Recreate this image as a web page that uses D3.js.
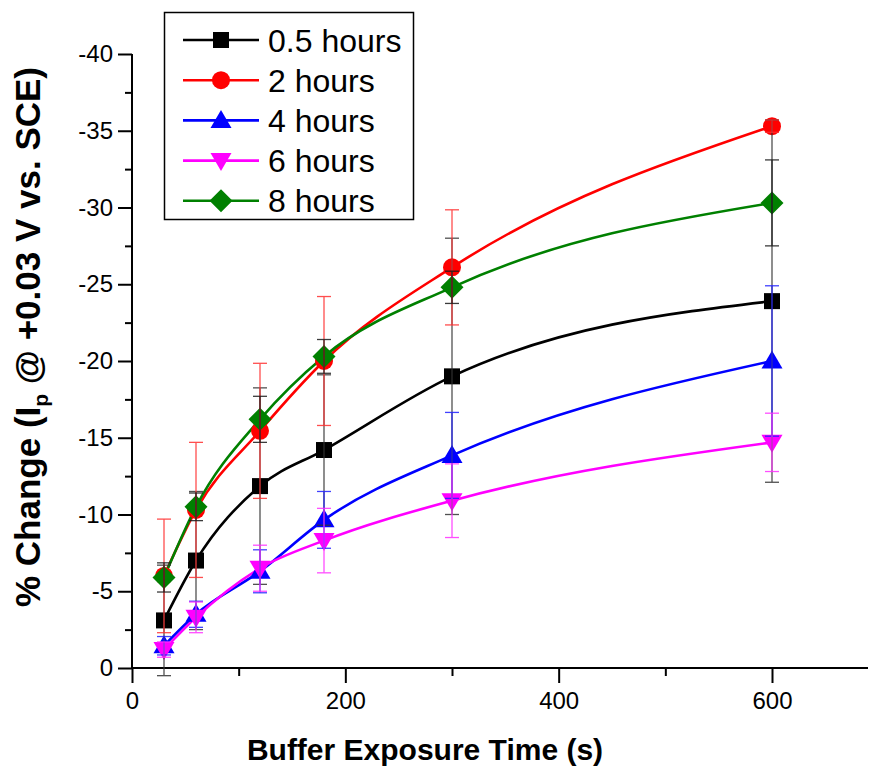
<!DOCTYPE html>
<html>
<head>
<meta charset="utf-8">
<script src="https://cdn.jsdelivr.net/npm/d3@7"></script>
<style>
  html, body { margin: 0; padding: 0; background: #fff; }
  svg { display: block; font-family: "Liberation Sans", Arial, sans-serif; }
  .tick text { font-size: 24px; fill: #000; }
  .axis path, .axis line { stroke: #000; }
</style>
</head>
<body>
<svg id="chart" width="870" height="767"></svg>
<script>
// exposure times (s)
const times = [30, 60, 120, 180, 300, 600];

// mean % change per storage time
const vals05 = [-3.1, -7.0, -11.85, -14.2, -19.0, -23.9];
const vals2  = [-6.0, -10.3, -15.45, -20.0, -26.1, -35.3];
const vals4  = [-1.45, -3.5, -6.3, -9.65, -13.85, -20.0];
const vals6  = [-1.2, -3.3, -6.5, -8.3, -10.9, -14.7];
const vals8  = [-5.9, -10.5, -16.2, -20.3, -24.8, -30.3];

// error bar half-lengths
const err05 = [3.6, 4.5, 6.4, 4.9, 9.0, 11.8];
const err2  = [3.7, 4.4, 4.4, 4.2, 3.75, 0.4];
const err4  = [0.6, 0.85, 1.4, 1.85, 2.8, 4.9];
const err6  = [0.5, 1.0, 1.5, 2.1, 2.4, 1.9];
const err8  = [0.95, 0.9, 1.5, 1.1, 1.05, 2.8];

const labels = ['0.5 hours', '2 hours', '4 hours', '6 hours', '8 hours'];

const xTicks = [0, 200, 400, 600];
const xMinor = [100, 300, 500];
const yTicks = [0, -5, -10, -15, -20, -25, -30, -35, -40];
const yMinor = [-2.5, -7.5, -12.5, -17.5, -22.5, -27.5, -32.5, -37.5];

const series = [
  { name: labels[0], vals: vals05, err: err05, color: '#000000', errColor: '#333333', shape: 'square' },
  { name: labels[1], vals: vals2,  err: err2,  color: '#ff0000', errColor: '#ff3030', shape: 'circle' },
  { name: labels[2], vals: vals4,  err: err4,  color: '#0000ff', errColor: '#2020ff', shape: 'up' },
  { name: labels[3], vals: vals6,  err: err6,  color: '#ff00ff', errColor: '#ff30ff', shape: 'down' },
  { name: labels[4], vals: vals8,  err: err8,  color: '#008000', errColor: '#1a1a1a', shape: 'diamond' }
];

const svg = d3.select('#chart');

const x = d3.scaleLinear().domain([0, 690]).range([132, 868]);
const y = d3.scaleLinear().domain([0, -40]).range([668, 54]);

// marker paths centred on 0,0
function markerPath(shape) {
  switch (shape) {
    case 'square':  return 'M-8,-8H8V8H-8Z';
    case 'circle':  return d3.symbol(d3.symbolCircle, Math.PI * 9 * 9)();
    case 'up':      return 'M0,-10.5L10.5,7.5L-10.5,7.5Z';
    case 'down':    return 'M0,10.5L10.5,-7.5L-10.5,-7.5Z';
    case 'diamond': return 'M0,-11.5L11.5,0L0,11.5L-11.5,0Z';
  }
}

// axes
const yAxis = svg.append('g').attr('class', 'axis')
  .attr('transform', `translate(${x(0)},0)`)
  .call(d3.axisLeft(y).tickValues(yTicks).tickSize(14).tickPadding(5).tickFormat(d => String(d)));
svg.append('g').attr('class', 'axis')
  .attr('transform', `translate(${x(0)},0)`)
  .call(d3.axisLeft(y).tickValues(yMinor).tickSize(7).tickFormat(''))
  .select('.domain').remove();

const xAxis = svg.append('g').attr('class', 'axis')
  .attr('transform', `translate(0,${y(0)})`)
  .call(d3.axisBottom(x).tickValues(xTicks).tickSize(15).tickPadding(9).tickFormat(d => String(d)));
svg.append('g').attr('class', 'axis')
  .attr('transform', `translate(0,${y(0)})`)
  .call(d3.axisBottom(x).tickValues(xMinor).tickSize(8).tickFormat(''))
  .select('.domain').remove();

yAxis.select('.domain').remove();
xAxis.select('.domain').remove();
svg.append('line').attr('x1', x(0)).attr('x2', x(0)).attr('y1', y(-40)).attr('y2', y(0) + 1)
  .attr('stroke', '#000').attr('stroke-width', 2);
svg.append('line').attr('x1', x(0) - 1).attr('x2', x(690)).attr('y1', y(0)).attr('y2', y(0))
  .attr('stroke', '#000').attr('stroke-width', 2);
svg.selectAll('.axis .tick line').attr('stroke-width', 2);

// curves
const line = d3.line().x(d => x(d.t)).y(d => y(d.v)).curve(d3.curveMonotoneX);
series.forEach(s => {
  const pts = times.map((t, i) => ({ t, v: s.vals[i], e: s.err[i] }));
  s.pts = pts;
  svg.append('path').datum(pts)
    .attr('d', line)
    .attr('fill', 'none')
    .attr('stroke', s.color)
    .attr('stroke-width', 2.6);
});

// symbols
series.forEach(s => {
  svg.append('g').selectAll('path').data(s.pts).join('path')
    .attr('transform', d => `translate(${x(d.t)},${y(d.v)})`)
    .attr('d', markerPath(s.shape))
    .attr('fill', s.color);
});

// error bars on top
series.forEach(s => {
  const g = svg.append('g').attr('stroke', s.errColor).attr('stroke-width', 1.3).attr('opacity', 0.85);
  s.pts.forEach(d => {
    const cx = x(d.t), y1 = y(d.v - d.e), y2 = y(d.v + d.e);
    g.append('line').attr('x1', cx).attr('x2', cx).attr('y1', y1).attr('y2', y2);
    g.append('line').attr('x1', cx - 7).attr('x2', cx + 7).attr('y1', y1).attr('y2', y1);
    g.append('line').attr('x1', cx - 7).attr('x2', cx + 7).attr('y1', y2).attr('y2', y2);
  });
});

// axis titles
svg.append('text')
  .attr('x', 425).attr('y', 760)
  .attr('text-anchor', 'middle')
  .attr('font-size', 30).attr('font-weight', 'bold')
  .text('Buffer Exposure Time (s)');

const yt = svg.append('text')
  .attr('transform', 'translate(40,337) rotate(-90)')
  .attr('text-anchor', 'middle')
  .attr('font-size', 35).attr('font-weight', 'bold');
yt.append('tspan').text('% Change (I');
yt.append('tspan').attr('dy', 8).attr('font-size', 21).text('p');
yt.append('tspan').attr('dy', -8).text(' @ +0.03 V vs. SCE)');

// legend
const leg = svg.append('g');
leg.append('rect').attr('x', 164.5).attr('y', 12.5).attr('width', 249).attr('height', 207)
  .attr('fill', '#fff').attr('stroke', '#000').attr('stroke-width', 1.5);
series.forEach((s, i) => {
  const ly = 40 + i * 40.2;
  leg.append('line').attr('x1', 183).attr('x2', 259).attr('y1', ly).attr('y2', ly)
    .attr('stroke', s.color).attr('stroke-width', 2.6);
  leg.append('path').attr('transform', `translate(221,${ly})`).attr('d', markerPath(s.shape)).attr('fill', s.color);
  leg.append('text').attr('x', 268).attr('y', ly + 11.5)
    .attr('font-size', 32).text(s.name);
});
</script>
</body>
</html>
